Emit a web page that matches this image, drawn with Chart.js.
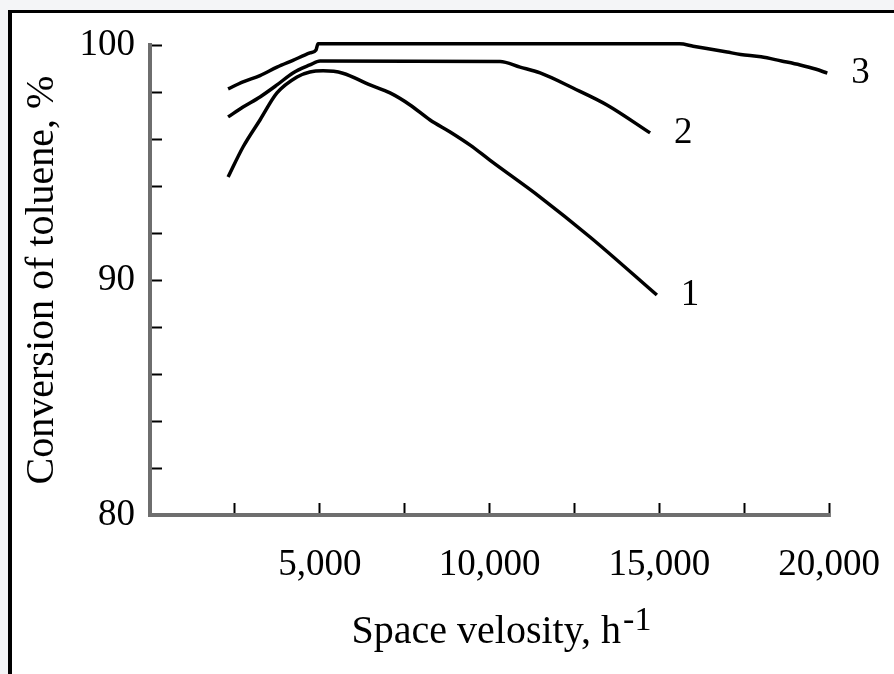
<!DOCTYPE html>
<html>
<head>
<meta charset="utf-8">
<script src="https://cdn.jsdelivr.net/npm/chart.js@4.4.1/dist/chart.umd.min.js"></script>
<style>
    html, body { margin: 0; padding: 0; background: #f4f5f7; overflow: hidden; }
    #graf { display: block; }
</style>
</head>
<body>
<canvas id="graf" width="894" height="674"></canvas>
<script>
/* curve 1 */
const speed1 = [2300, 2740, 3240, 3740, 4330, 4710, 5100, 5680, 6480, 7070, 7660, 8250, 8840, 9430, 10010, 11490, 12960, 14930];
const conv1  = [94.38, 95.66, 96.81, 97.96, 98.64, 98.85, 98.9, 98.8, 98.3, 97.96, 97.45, 96.81, 96.3, 95.74, 95.1, 93.53, 91.83, 89.36];

/* curve 2 */
const speed2 = [2300, 2740, 3240, 3740, 4210, 4710, 5010, 10310, 10900, 11490, 12460, 13460, 14730];
const conv2  = [96.94, 97.36, 97.79, 98.3, 98.81, 99.15, 99.32, 99.3, 99.06, 98.81, 98.17, 97.45, 96.26];

/* curve 3 */
const speed3 = [2300, 2740, 3240, 3740, 4210, 4710, 4890, 4950, 15600, 16000, 16400, 17000, 17400, 18000, 18600, 19150, 19600, 19950];
const conv3  = [98.13, 98.43, 98.7, 99.06, 99.35, 99.66, 99.79, 100.05, 100.05, 99.95, 99.85, 99.7, 99.6, 99.5, 99.32, 99.15, 98.98, 98.8];

const curveNames = ['1', '2', '3'];

/* only these ticks carry a label */
const xLabelled = [5000, 10000, 15000, 20000];
const yLabelled = [80, 90, 100];

const serif = '"Liberation Serif", "Times New Roman", serif';

function punkter(xs, ys) {
    const ud = [];
    for (let i = 0; i < xs.length; i++) ud.push({ x: xs[i], y: ys[i] });
    return ud;
}

function kurve(navn, xs, ys) {
    return {
        label: navn,
        data: punkter(xs, ys),
        borderColor: '#000',
        backgroundColor: 'transparent',
        borderWidth: 3.5,
        pointRadius: 0,
        cubicInterpolationMode: 'monotone',
        clip: false
    };
}

/* the scanned frame: white page with only the top and left edges visible */
const rammePlugin = {
    id: 'ramme',
    beforeDraw(chart) {
        const ctx = chart.ctx;
        ctx.save();
        ctx.fillStyle = '#f4f5f7';
        ctx.fillRect(0, 0, chart.width, chart.height);
        ctx.fillStyle = '#fff';
        ctx.fillRect(8, 10, chart.width, chart.height);
        ctx.fillStyle = '#000';
        ctx.fillRect(8, 10, chart.width, 3);
        ctx.fillRect(8, 10, 4, chart.height);
        ctx.restore();
    }
};

/* curve numbers next to the end of each line, and the x title with its superscript */
const tekstPlugin = {
    id: 'tekster',
    afterDraw(chart) {
        const ctx = chart.ctx;
        ctx.save();
        ctx.fillStyle = '#000';
        ctx.font = '37px ' + serif;
        ctx.textAlign = 'left';
        ctx.textBaseline = 'middle';
        chart.data.datasets.forEach((ds, i) => {
            const meta = chart.getDatasetMeta(i);
            const sidste = meta.data[meta.data.length - 1];
            ctx.fillText(ds.label, sidste.x + 24, sidste.y);
        });

        const area = chart.chartArea;
        const hoved = 'Space velosity, h';
        const hoejt = '-1';
        ctx.font = '40px ' + serif;
        const w1 = ctx.measureText(hoved).width;
        ctx.font = '34px ' + serif;
        const w2 = ctx.measureText(hoejt).width;
        const midt = (area.left + area.right) / 2 + 12;
        const start = midt - (w1 + w2 + 2) / 2;
        ctx.textBaseline = 'alphabetic';
        ctx.font = '40px ' + serif;
        ctx.fillText(hoved, start, 643);
        ctx.font = '34px ' + serif;
        ctx.fillText(hoejt, start + w1 + 2, 630);
        ctx.restore();
    }
};

new Chart(document.getElementById('graf'), {
    type: 'line',
    data: {
        datasets: [
            kurve(curveNames[0], speed1, conv1),
            kurve(curveNames[1], speed2, conv2),
            kurve(curveNames[2], speed3, conv3)
        ]
    },
    options: {
        responsive: false,
        animation: false,
        devicePixelRatio: 1,
        layout: { padding: { top: 45, right: 65, bottom: 0, left: 0 } },
        plugins: {
            legend: { display: false },
            tooltip: { enabled: false }
        },
        scales: {
            x: {
                type: 'linear',
                min: 0,
                max: 20000,
                afterFit: (s) => {
                    s.height = 159;
                    s.paddingLeft = 0;
                    s.paddingRight = 0;
                },
                ticks: {
                    stepSize: 2500,
                    autoSkip: false,
                    maxRotation: 0,
                    padding: 40,
                    color: '#000',
                    font: { family: serif, size: 37 },
                    callback: (v) => xLabelled.includes(v) ? v.toLocaleString('en-US') : ''
                },
                grid: {
                    drawOnChartArea: false,
                    drawTicks: true,
                    tickLength: -12,
                    tickWidth: 2,
                    tickColor: (c) => (c.tick && c.tick.value === 0) ? 'transparent' : '#000'
                },
                border: { color: '#6e6e6e', width: 4 },
                title: { display: false }
            },
            y: {
                min: 80,
                max: 100,
                afterFit: (s) => {
                    s.width = 150;
                    s.paddingTop = 0;
                    s.paddingBottom = 0;
                },
                ticks: {
                    stepSize: 2,
                    autoSkip: false,
                    padding: 27,
                    color: '#000',
                    font: { family: serif, size: 37 },
                    callback: (v) => yLabelled.includes(v) ? String(v) : ''
                },
                grid: {
                    drawOnChartArea: false,
                    drawTicks: true,
                    tickLength: -12,
                    tickWidth: 2,
                    tickColor: (c) => (c.tick && c.tick.value === 80) ? 'transparent' : '#000'
                },
                border: { color: '#6e6e6e', width: 4 },
                title: {
                    display: true,
                    text: 'Conversion of toluene, %',
                    color: '#000',
                    font: { family: serif, size: 40 },
                    padding: { top: 18, bottom: 0 }
                }
            }
        }
    },
    plugins: [rammePlugin, tekstPlugin]
});
</script>
</body>
</html>
